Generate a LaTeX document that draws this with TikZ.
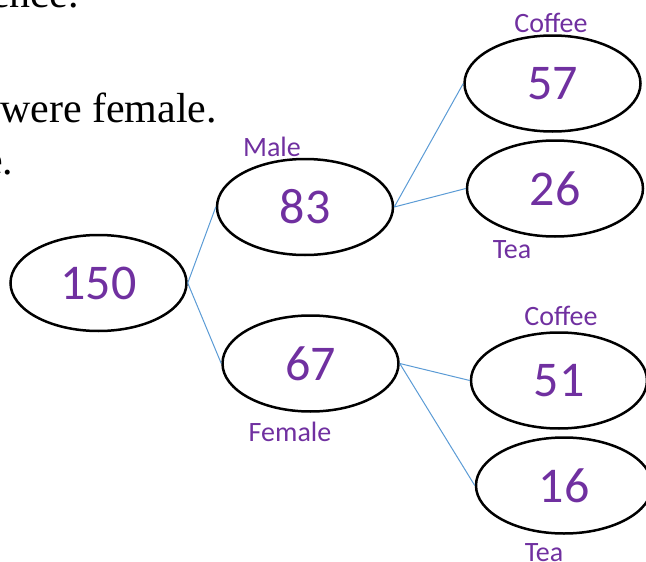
\documentclass[tikz,border=0pt]{standalone}
\usepackage{fontspec}
\setmainfont{Liberation Serif}
\newfontfamily\calib{Carlito}
\usetikzlibrary{shapes.geometric}
\definecolor{numpurple}{HTML}{7030A0}
\definecolor{linkblue}{HTML}{5B9BD5}
\tikzset{
  oval/.style={ellipse, draw=black, line width=2.5pt, minimum width=176pt, minimum height=96pt, inner sep=0pt,
    text=numpurple, font=\calib\fontsize{50}{50}\selectfont},
  lbl/.style={text=numpurple, font=\calib\fontsize{28}{28}\selectfont, inner sep=0pt},
  link/.style={draw=linkblue, line width=1pt},
  prose/.style={font=\fontsize{42}{42}\selectfont, inner sep=0pt, anchor=base west}
}
\begin{document}
\begin{tikzpicture}[x=1pt,y=-1pt]
\useasboundingbox (0,0) rectangle (646,562);
\clip (0,0) rectangle (646,562);
\node[prose] (t1) at (-9,8) {ence.};
\node[prose] (t2) at (0,122) {were female.};
\node[prose] (t3) at (-16,174) {e.};
\node[oval] (n150) at (98.5,283) {150};
\node[oval] (n83) at (305,207) {83};
\node[oval] (n67) at (310.5,363.5) {67};
\node[oval] (n57) at (552.5,83.5) {57};
\node[oval] (n26) at (555,188.5) {26};
\node[oval] (n51) at (559,380.5) {51};
\node[oval] (n16) at (564,485.5) {16};
\node[lbl] (lmale) at (272,147) {Male};
\node[lbl] (lfemale) at (290,432) {Female};
\node[lbl] (lc1) at (551,23) {Coffee};
\node[lbl] (lt1) at (512,250) {Tea};
\node[lbl] (lc2) at (561,316) {Coffee};
\node[lbl] (lt2) at (544,553) {Tea};
\draw[link] (n150.east) -- (n83.west);
\draw[link] (n150.east) -- (n67.west);
\draw[link] (n83.east) -- (n57.west);
\draw[link] (n83.east) -- (n26.west);
\draw[link] (n67.east) -- (n51.west);
\draw[link] (n67.east) -- (n16.west);
\end{tikzpicture}
\end{document}
